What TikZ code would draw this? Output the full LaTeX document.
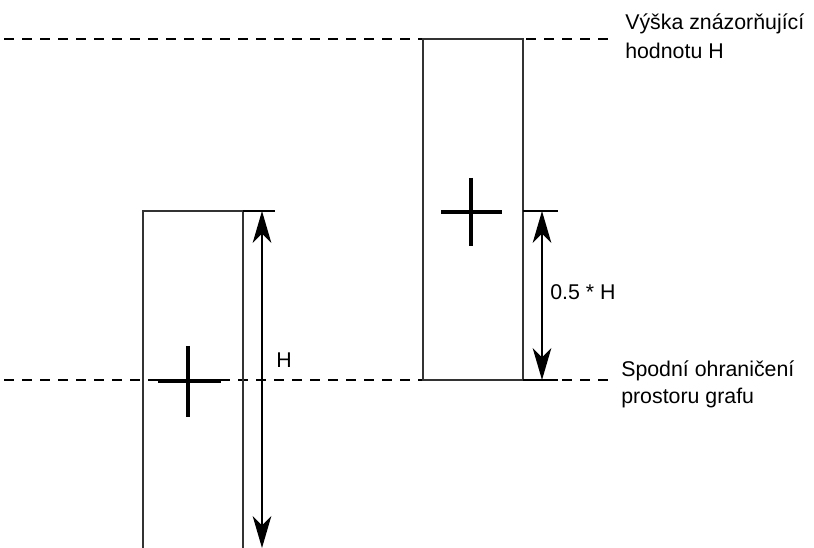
\documentclass[tikz,border=0pt]{standalone}
\usepackage{fontspec}
\setmainfont{Liberation Sans}
\usetikzlibrary{arrows.meta}

\tikzset{
  carka/.style={line width=1.9pt, dash pattern=on 7.5pt off 6pt},
  ramec/.style={line width=0.8pt, draw=black!80},
  kriz/.style={line width=2.4pt},
  znacka/.style={line width=1.6pt},
  hrot/.tip={Stealth[length=24pt,width=14pt,inset=7pt]},
  sipka/.style={line width=1.5pt, hrot-hrot},
  popis/.style={font=\fontsize{16}{20}\selectfont, inner sep=0pt}
}

\begin{document}
\begin{tikzpicture}[x=0.75pt,y=-0.75pt]

\useasboundingbox (0,0) rectangle (814,548);
\clip (0,0) rectangle (814,548);

%% vodorovne carkovane cary
\draw [carka] (4,39) -- (610,39);   %% vyska H
\draw [carka] (4,380) -- (610,380); %% spodni okraj

%% levy sloupec
\draw [ramec] (143,211) rectangle (243,570);
\draw [kriz] (158,381) -- (221,381);
\draw [kriz] (188,346) -- (188,417);

%% pravy sloupec
\draw [ramec] (423,39) rectangle (523,380);
\draw [kriz] (441,212) -- (502,212);
\draw [kriz] (471,178) -- (471,246);

%% znacky a koty
\coordinate (hl) at (243,211);
\coordinate (hr) at (275,211);
\coordinate (ha) at (262,211);
\coordinate (hb) at (262,548);
\draw [znacka] (hl) -- (hr);
\draw [sipka] (ha) -- (hb);

\coordinate (pl) at (523,211);
\coordinate (pr) at (558,211);
\coordinate (dl) at (523,380);
\coordinate (dr) at (558,380);
\coordinate (pa) at (542,211);
\coordinate (pb) at (542,380);
\draw [znacka] (pl) -- (pr);
\draw [znacka] (dl) -- (dr);
\draw [sipka] (pa) -- (pb);

%% popisky
\node [popis, anchor=base west] (h) at (276,368) {H};
\node [popis, anchor=base west] (pul) at (550,300) {0.5 * H};
\node [popis, anchor=base west] (vyska1) at (625,30) {Výška znázorňující};
\node [popis, anchor=base west] (vyska2) at (625,59) {hodnotu H};
\node [popis, anchor=base west] (spodni1) at (621,377) {Spodní ohraničení};
\node [popis, anchor=base west] (spodni2) at (621,404) {prostoru grafu};

\end{tikzpicture}
\end{document}
